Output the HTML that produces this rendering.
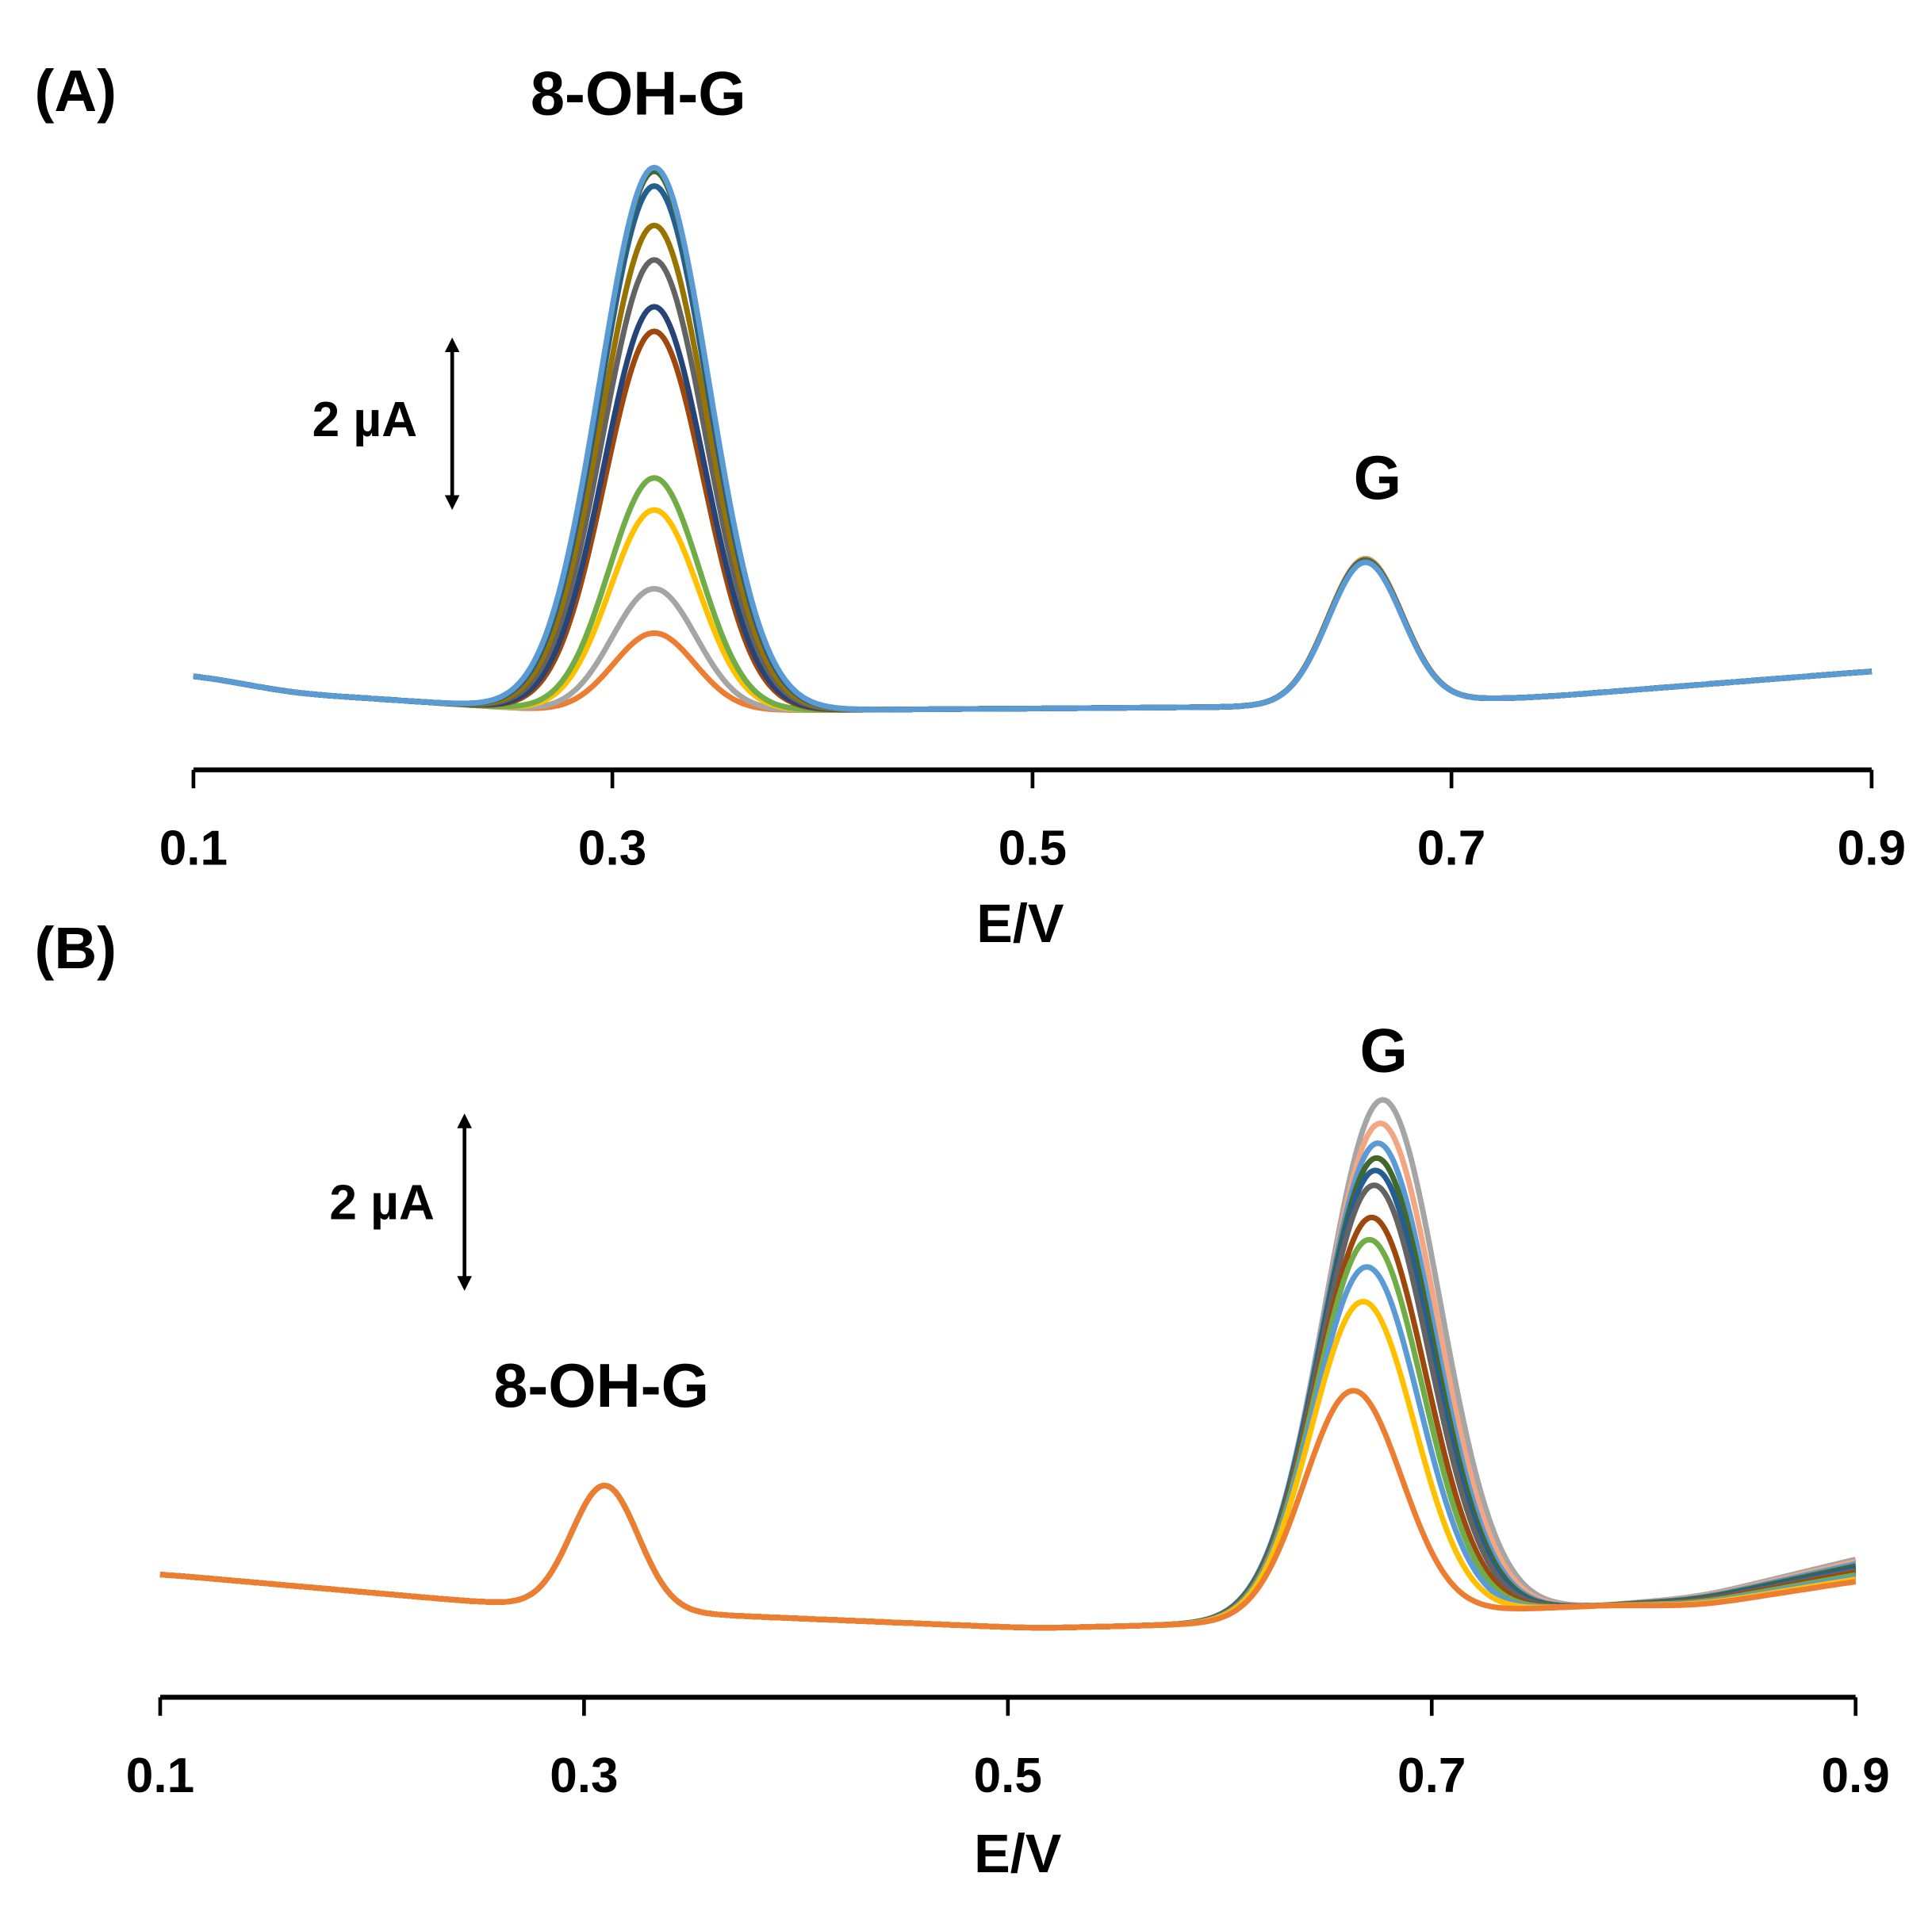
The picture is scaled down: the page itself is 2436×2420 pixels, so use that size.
<!DOCTYPE html>
<html><head><meta charset="utf-8"><style>
html,body{margin:0;padding:0;background:#fff}
svg{display:block}
text{font-family:"Liberation Sans",sans-serif;font-weight:bold;fill:#000}
</style></head><body>
<svg id="s" width="2436" height="2420" viewBox="0 0 1568 1558" preserveAspectRatio="none" xmlns="http://www.w3.org/2000/svg">
<defs><marker id="ah" markerWidth="4" markerHeight="4" refX="2" refY="2" orient="auto-start-reverse" markerUnits="strokeWidth"><path d="M0,0 L4,2 L0,4 z" fill="#000"/></marker></defs>
<g id="curves"></g>
<line x1="157" y1="625" x2="1519" y2="625" stroke="#000" stroke-width="4"/>
<g stroke="#000" stroke-width="3">
<line x1="157" y1="625" x2="157" y2="640"/><line x1="497" y1="625" x2="497" y2="640"/><line x1="838" y1="625" x2="838" y2="640"/><line x1="1178" y1="625" x2="1178" y2="640"/><line x1="1519" y1="625" x2="1519" y2="640"/>
</g>
<g font-size="40" text-anchor="middle">
<text x="157" y="702">0.1</text><text x="497" y="702">0.3</text><text x="838" y="702">0.5</text><text x="1178" y="702">0.7</text><text x="1519" y="702">0.9</text>
<text x="828" y="765" font-size="44">E/V</text>
</g>
<text x="28" y="90" font-size="48">(A)</text>
<text x="518" y="93" font-size="50" text-anchor="middle">8-OH-G</text>
<text x="1118" y="405" font-size="50" text-anchor="middle">G</text>
<text x="296" y="354" font-size="40" text-anchor="middle">2 µA</text>
<line x1="367" y1="280" x2="367" y2="408" stroke="#000" stroke-width="3" marker-start="url(#ah)" marker-end="url(#ah)"/>
<line x1="130" y1="1378" x2="1506" y2="1378" stroke="#000" stroke-width="4"/>
<g stroke="#000" stroke-width="3">
<line x1="130" y1="1378" x2="130" y2="1393"/><line x1="474" y1="1378" x2="474" y2="1393"/><line x1="818" y1="1378" x2="818" y2="1393"/><line x1="1162" y1="1378" x2="1162" y2="1393"/><line x1="1506" y1="1378" x2="1506" y2="1393"/>
</g>
<g font-size="40" text-anchor="middle">
<text x="130" y="1455">0.1</text><text x="474" y="1455">0.3</text><text x="818" y="1455">0.5</text><text x="1162" y="1455">0.7</text><text x="1506" y="1455">0.9</text>
<text x="826" y="1520" font-size="44">E/V</text>
</g>
<text x="28" y="786" font-size="48">(B)</text>
<text x="1123" y="870" font-size="50" text-anchor="middle">G</text>
<text x="488" y="1142" font-size="50" text-anchor="middle">8-OH-G</text>
<text x="310" y="990" font-size="40" text-anchor="middle">2 µA</text>
<line x1="377" y1="910" x2="377" y2="1042" stroke="#000" stroke-width="3" marker-start="url(#ah)" marker-end="url(#ah)"/>
</svg>
<script>
(function(){
var g=document.getElementById('curves');
function lin(pts,x){for(var i=0;i<pts.length-1;i++){if(x<=pts[i+1][0]){var t=(x-pts[i][0])/(pts[i+1][0]-pts[i][0]);return pts[i][1]+(pts[i+1][1]-pts[i][1])*t;}}return pts[pts.length-1][1];}
function smoothBase(pts,x0,x1){var raw={},out={};for(var x=x0-60;x<=x1+60;x+=2)raw[x]=lin(pts,x);
for(var x=x0;x<=x1;x+=2){var s=0,w=0;for(var k=-50;k<=50;k+=2){var ww=Math.exp(-0.5*(k/20)*(k/20));s+=raw[x+k]*ww;w+=ww;}out[x]=s/w;}return out;}
function gauss(x,c,s){var d=(x-c)/s;return Math.exp(-0.5*d*d);}
function path(x0,x1,f,col){var d='';for(var x=x0;x<=x1;x+=2){d+=(x==x0?'M':'L')+x+','+f(x).toFixed(1);}
var p=document.createElementNS('http://www.w3.org/2000/svg','path');p.setAttribute('d',d);p.setAttribute('fill','none');p.setAttribute('stroke',col);p.setAttribute('stroke-width','4.5');p.setAttribute('stroke-linejoin','round');g.appendChild(p);}
var bA=smoothBase([[100,546],[157,548],[240,563],[450,577],[600,577],[1000,574],[1250,566],[1519,545],[1600,540]],157,1519);
var A=[[503,'#ED7D31'],[467,'#A5A5A5'],[403,'#FFC000'],[377,'#70AD47'],[258,'#9E480E'],[238,'#264478'],[200,'#636363'],[172,'#997300'],[140,'#255E91'],[128,'#43682B'],[125,'#5B9BD5']];
A.forEach(function(a,i){var amp=566-a[0];var sig=31+amp*0.03;
path(157,1519,function(x){return bA[x]-amp*gauss(x,531,sig)-(117-i*0.3)*gauss(x,1108,30);},a[1]);});
var bB=smoothBase([[80,1276],[130,1278],[380,1300],[600,1312],[840,1322],[1000,1318],[1200,1308],[1380,1300],[1506,1275],[1560,1265]],130,1506);
var B=[[893,'#A5A5A5',1122],[912,'#F4A582',1120],[928,'#5B9BD5',1118],[940,'#43682B',1117],[950,'#255E91',1116],[962,'#636363',1115],[988,'#9E480E',1113],[1006,'#70AD47',1111],[1028,'#5B9BD5',1109],[1056,'#FFC000',1106],[1128,'#ED7D31',1098]];
B.forEach(function(b,i){var amp=1312-b[0];var sig=34+amp*0.03;
path(130,1506,function(x){return bB[x]+(x>1300?(i-5)*1.8*(x-1300)/206:0)-100*gauss(x,491,27)-amp*gauss(x,b[2],sig);},b[1]);});
})();
</script>
</body></html>
